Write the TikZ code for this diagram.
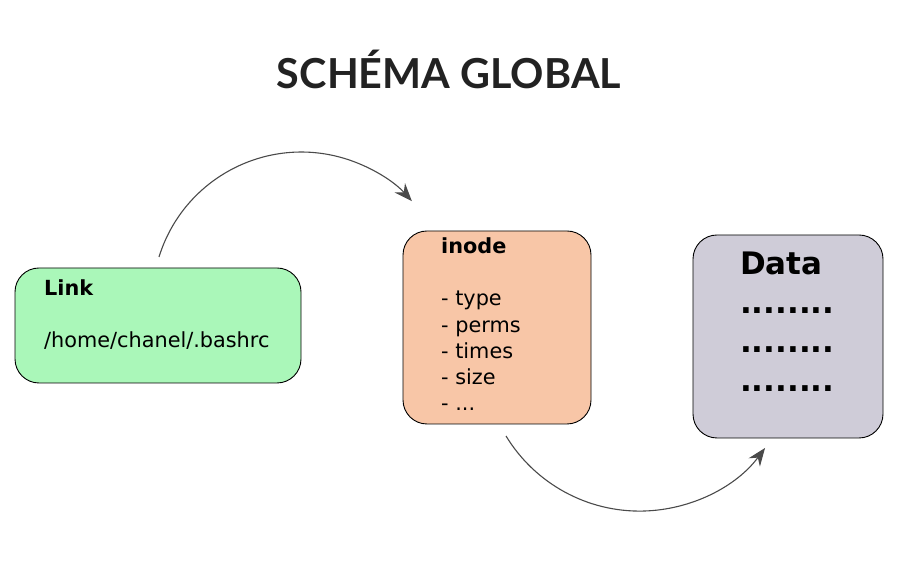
\documentclass[tikz,border=0pt]{standalone}
\usepackage{fontspec}
\setmainfont{DejaVu Sans}
\newfontfamily\titlefont{Lato}
\usetikzlibrary{arrows.meta}
\definecolor{linkfill}{HTML}{AAF7B9}
\definecolor{inodefill}{HTML}{F8C6A7}
\definecolor{datafill}{HTML}{CFCCD8}
\definecolor{titlegray}{HTML}{222222}
\definecolor{arrowgray}{HTML}{4A4A4A}
\begin{document}
\begin{tikzpicture}[x=1pt,y=1pt,
  card/.style={draw=black, line width=0.9pt, rounded corners=24pt, inner sep=0pt},
  body/.style={anchor=base west, inner sep=0pt, align=left,
    font=\fontsize{20.8}{26.3}\selectfont},
  bigbody/.style={anchor=base west, inner sep=0pt, align=left,
    font=\fontsize{31}{39.3}\selectfont\bfseries},
  flow/.style={draw=arrowgray, line width=1.1pt,
    -{Stealth[length=18pt, width=14pt, inset=6pt]}}]
\useasboundingbox (0,0) rectangle (912,569);

% heading
\node[anchor=base, inner sep=0pt, text=titlegray,
  font=\titlefont\fontsize{45}{45}\selectfont\bfseries] (title) at (449,480)
  {\resizebox{344pt}{!}{SCHÉMA GLOBAL}};

% the three cards
\node[card, fill=linkfill, minimum width=286pt, minimum height=115pt]
  (link) at (158,243.5) {};
\node[card, fill=inodefill, minimum width=188pt, minimum height=193pt]
  (inode) at (497,241.5) {};
\node[card, fill=datafill, minimum width=190pt, minimum height=203pt]
  (data) at (788,232.5) {};

% card contents (each node sits on the baseline of its last line)
\node[body] (linktext) at (44,221)
  {\textbf{Link}\\\strut\\/home/chanel/.bashrc};
\node[body] (inodetext) at (441,158)
  {\textbf{inode}\\\strut\\- type\\- perms\\- times\\- size\\- ...};
\node[bigbody] (datatext) at (740,177)
  {Data\\........\\........\\........};

% connectors between the cards
\coordinate (linkout) at (159,312);
\coordinate (inodeout) at (506,133);
\draw[flow] (linkout) arc[start angle=162.8, end angle=42.1, radius=149];
\draw[flow] (inodeout) arc[start angle=211.3, end angle=323.4, radius=156.3];
\end{tikzpicture}
\end{document}
